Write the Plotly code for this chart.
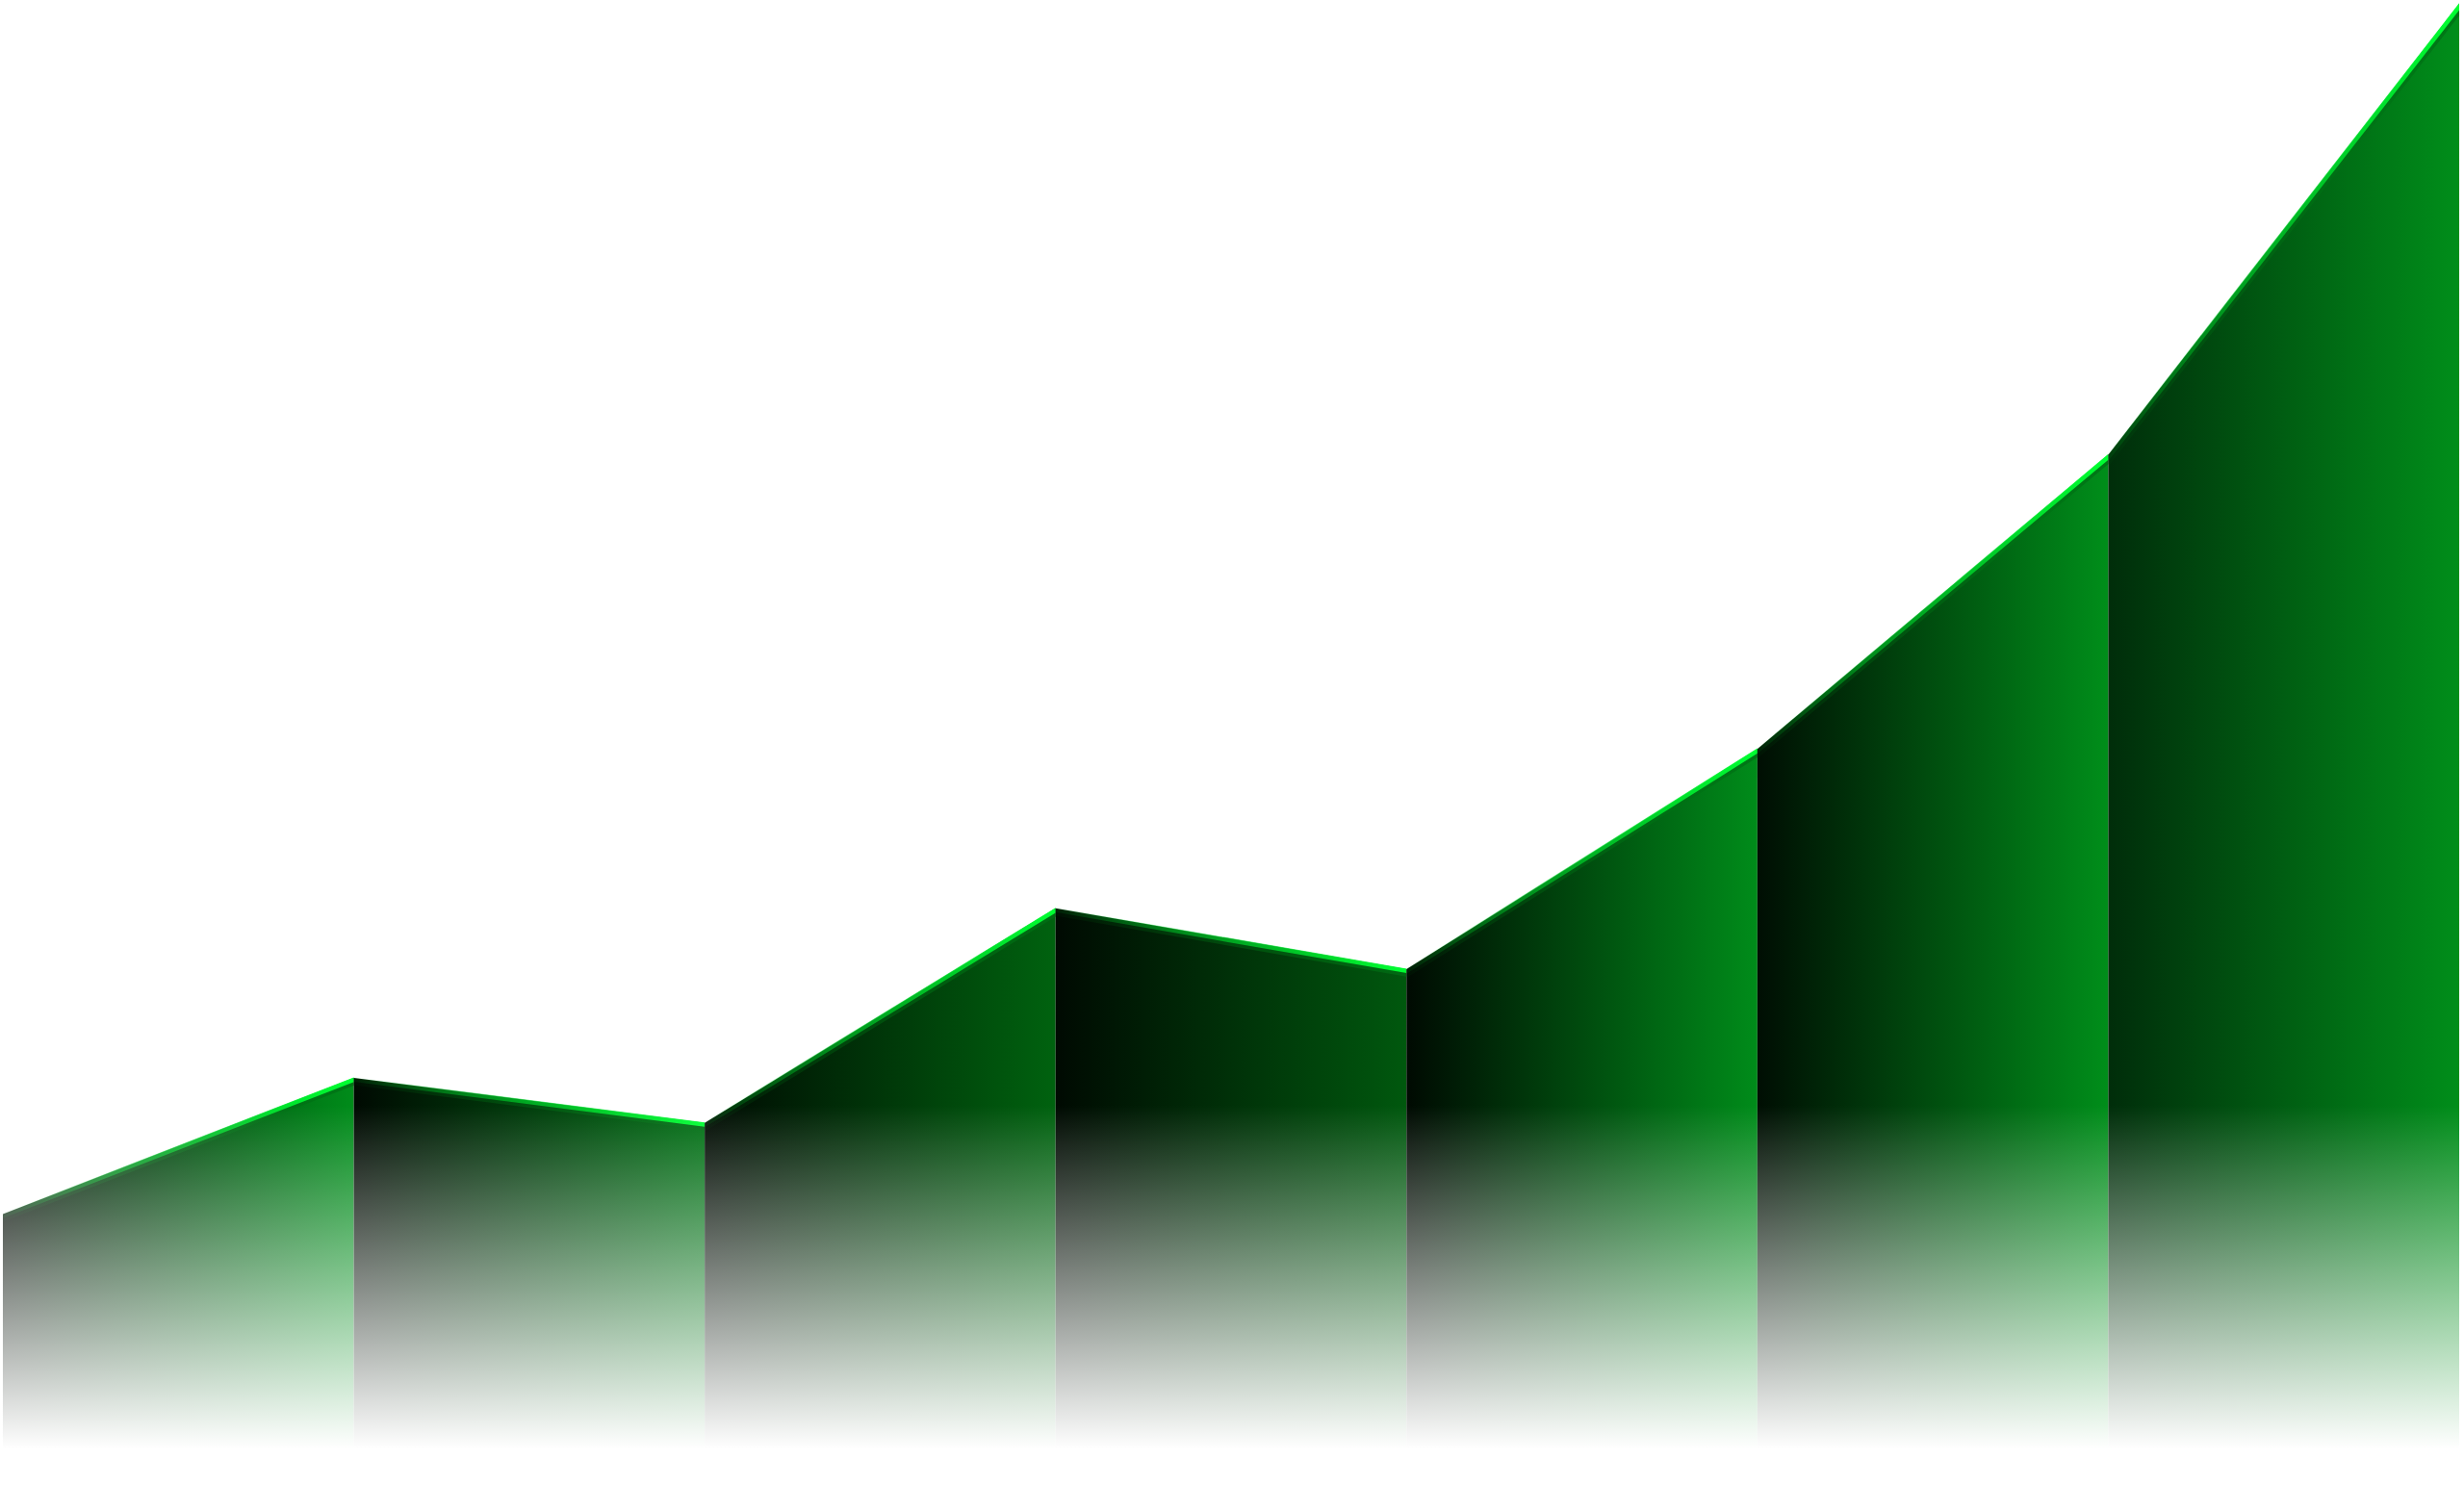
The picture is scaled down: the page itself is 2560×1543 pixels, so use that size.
import math
import plotly.graph_objects as go

# ---- data ----
steps = [0, 1, 2, 3, 4, 5, 6, 7]
values = [16.5, 25.9, 22.8, 37.6, 33.4, 48.6, 68.9, 100.0]
# left / right colours of each segment's horizontal gradient
segment_start_colors = [
    "rgb(0,10,2)", "rgb(0,10,2)", "rgb(0,10,2)", "rgb(0,10,2)",
    "rgb(0,10,2)", "rgb(0,14,3)", "rgb(0,45,10)",
]
segment_end_colors = [
    "rgb(0,140,26)", "rgb(0,112,20)", "rgb(0,98,15)", "rgb(0,88,14)",
    "rgb(0,140,26)", "rgb(0,142,26)", "rgb(0,142,26)",
]

# ---- layout constants ----
W, H = 2560, 1543
x_range = [-0.0082, 7.0137]
y_range = [-2.19, 100.27]
px_x = W / (x_range[1] - x_range[0])
px_y = H / (y_range[1] - y_range[0])

fade_top = 24.0
line_scale = [[0, "rgba(0,255,50,0.08)"], [0.35, "rgba(0,220,45,0.55)"], [1, "rgba(0,255,50,1)"]]
under_scale = [[0, "rgba(0,120,20,0.05)"], [1, "rgba(0,110,20,0.75)"]]

fig = go.Figure()


def band(x0, x1, v0, v1, off_top_px, off_bot_px):
    s = (v1 - v0) * px_y / ((x1 - x0) * px_x)
    k = math.sqrt(1 + s * s) / px_y
    a, b = off_top_px * k, off_bot_px * k
    return ([x0, x1, x1, x0, x0], [v0 - a, v1 - a, v1 - b, v0 - b, v0 - a])


for i in range(len(steps) - 1):
    x0, x1 = steps[i], steps[i + 1]
    v0, v1 = values[i], values[i + 1]
    fill_scale = [[0, segment_start_colors[i]], [1, segment_end_colors[i]]]
    # area segment with horizontal gradient
    fig.add_trace(go.Scatter(
        x=[x0, x0, x1, x1, x0], y=[0, v0, v1, 0, 0],
        mode="none", fill="toself",
        fillgradient=dict(type="horizontal", colorscale=fill_scale, start=x0, stop=x1),
        hoverinfo="skip", showlegend=False))
    # darker band under the bright edge
    bx, by = band(x0, x1, v0, v1, 4.0, 7.5)
    fig.add_trace(go.Scatter(
        x=bx, y=by, mode="none", fill="toself",
        fillgradient=dict(type="horizontal", colorscale=under_scale, start=x0, stop=x1),
        hoverinfo="skip", showlegend=False))
    # bright top edge
    lx, ly = band(x0, x1, v0, v1, -0.5, 4.0)
    fig.add_trace(go.Scatter(
        x=lx, y=ly, mode="none", fill="toself",
        fillgradient=dict(type="horizontal", colorscale=line_scale, start=x0, stop=x1),
        hoverinfo="skip", showlegend=False))

# vertical fade to white at the bottom
fig.add_trace(go.Scatter(
    x=[x_range[0], x_range[1], x_range[1], x_range[0], x_range[0]],
    y=[y_range[0], y_range[0], fade_top, fade_top, y_range[0]],
    mode="none", fill="toself",
    fillgradient=dict(type="vertical",
                      colorscale=[[0, "rgba(255,255,255,1)"], [1, "rgba(255,255,255,0)"]],
                      start=0.3, stop=fade_top),
    hoverinfo="skip", showlegend=False))

fig.update_layout(
    width=W, height=H,
    margin=dict(l=0, r=0, t=0, b=0),
    paper_bgcolor="white", plot_bgcolor="white",
    xaxis=dict(range=x_range, visible=False, fixedrange=True),
    yaxis=dict(range=y_range, visible=False, fixedrange=True),
    showlegend=False,
)

fig.write_html(
    "out.html",
    config={"displayModeBar": False},
    post_script="document.body.style.margin='0';document.body.style.overflow='hidden';",
)
